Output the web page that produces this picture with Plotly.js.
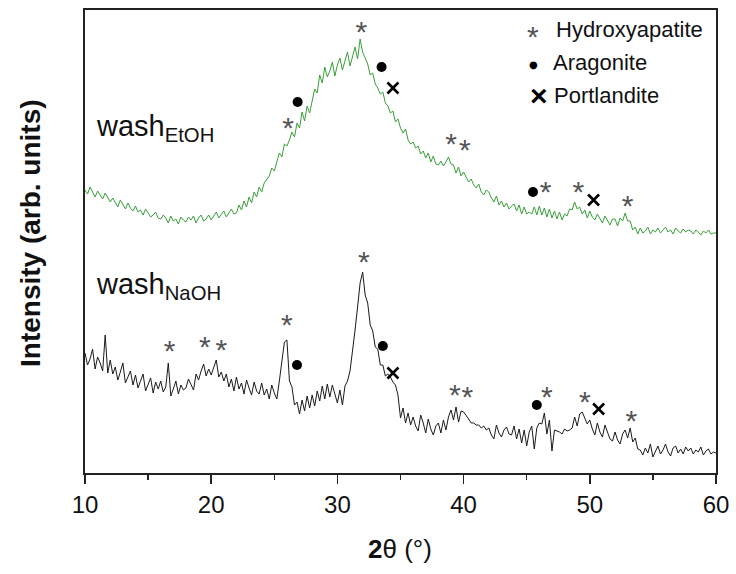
<!DOCTYPE html>
<html>
<head>
<meta charset="utf-8">
<script src="https://cdn.plot.ly/plotly-3.0.1.min.js"></script>
<style>html,body{margin:0;padding:0;background:#fff}#chart{width:736px;height:574px}</style>
</head>
<body>
<div id="chart"></div>
<script>
// 2-theta sampling: start 10°, step 0.2°, 251 points
const twoThetaStart = 10;
const twoThetaStep = 0.2;

// wash EtOH intensity (arb. units, offset trace)
const washEtOH = [
283,279,286,281,276,282,278,274,280,276,
271,275,270,266,273,268,264,270,265,262,
267,261,263,258,264,260,256,258,261,255,
254,258,255,250,257,252,254,249,256,253,
251,256,253,257,250,255,258,252,254,258,
253,257,261,255,258,262,256,260,264,259,
260,268,263,272,266,276,270,281,276,286,
281,290,294,297,305,302,311,320,316,329,
327,333,341,336,350,345,361,352,367,360,
372,384,380,398,390,406,396,402,411,397,
408,415,403,411,421,407,418,426,414,434,
421,414,409,398,400,389,385,379,381,370,
367,360,362,351,354,345,340,344,333,329,
331,325,327,319,322,315,320,311,317,309,
308,312,307,311,316,309,308,300,306,297,
301,296,291,294,288,285,289,281,278,283,
281,275,271,277,268,272,266,270,264,267,
269,262,268,259,266,259,261,259,266,258,
267,258,265,256,264,255,262,254,261,253,
259,257,264,263,271,264,266,259,263,255,
262,256,253,259,254,250,257,252,248,254,
254,247,255,252,260,252,252,243,246,239,
245,240,242,246,239,243,241,245,240,243,
246,241,243,239,245,242,240,244,241,243,
242,239,243,241,238,242,240,243,239,240,
240];

// wash NaOH intensity (arb. units)
const washNaOH = [
120,108,114,124,104,116,110,102,138,100,
113,99,106,93,101,110,90,96,102,88,
98,85,92,99,82,88,95,80,91,84,
92,81,86,110,77,84,92,79,88,83,
85,94,88,83,99,93,102,109,97,104,
98,106,113,96,101,92,99,86,94,82,
96,84,90,79,93,85,78,91,82,79,
90,78,84,74,88,80,74,92,113,131,
133,92,86,68,71,59,73,62,77,65,
78,67,82,72,87,74,89,76,88,78,
70,83,68,87,92,102,120,143,166,190,
201,178,170,148,142,126,124,108,108,97,
99,96,91,88,78,55,65,50,60,48,
56,47,42,58,50,40,54,44,38,47,
50,40,53,43,56,63,53,66,51,62,
61,58,54,50,50,48,48,45,47,43,
45,38,34,48,40,36,43,46,39,38,
47,34,44,30,43,27,41,47,24,45,
50,49,60,39,53,22,43,42,41,39,
44,42,43,45,56,47,59,61,54,49,
53,44,38,50,41,36,48,40,34,32,
41,33,29,39,43,35,45,31,35,24,
23,18,25,20,29,16,22,27,19,23,
29,21,17,25,27,20,24,19,26,22,
25,19,23,21,26,18,22,24,19,21,
20];

// Phase markers (2theta, height on the offset intensity scale)
const hapX = [31.9,26.1,39.0,40.1,46.5,49.1,53.0, 32.1,26.0,16.7,19.5,20.8,39.3,40.3,46.6,49.6,53.3];
const hapY = [446,350,334,328,286,286,272, 216,153,127,131,128,83,81,81,76,57];
const aragX = [26.85,33.5,45.5, 26.8,33.6,45.8];
const aragY = [371,406,281, 108,127,68];
const portX = [34.4,50.3, 34.4,50.7];
const portY = [385,273, 100,64];

const sampleLabels = ["wash<sub>EtOH</sub>", "wash<sub>NaOH</sub>"];
const legendNames = ["Hydroxyapatite", "Aragonite", "Portlandite"];
const xTicks = [10,20,30,40,50,60];

const xs = washEtOH.map((_, i) => +(twoThetaStart + i * twoThetaStep).toFixed(2));

const FONT = "Liberation Sans, Arial, sans-serif";
const STAR_SIZE = 30;

const traces = [
  {x: xs, y: washEtOH, type: "scatter", mode: "lines", line: {color: "#3a9e3a", width: 1}, showlegend: false, hoverinfo: "skip"},
  {x: xs, y: washNaOH, type: "scatter", mode: "lines", line: {color: "#1a1a1a", width: 1}, showlegend: false, hoverinfo: "skip"},
  {x: hapX, y: hapY.map(v => v - 7), type: "scatter", mode: "text", text: hapX.map(() => "*"),
   textfont: {family: FONT, size: STAR_SIZE, color: "#555"}, textposition: "middle center", showlegend: false, hoverinfo: "skip"},
  {x: aragX, y: aragY, type: "scatter", mode: "markers", marker: {symbol: "circle", size: 10, color: "#000"}, showlegend: false, hoverinfo: "skip"},
  {x: portX, y: portY, type: "scatter", mode: "markers", marker: {symbol: "x-thin-open", size: 11, color: "#000", line: {color: "#000", width: 2.6}}, showlegend: false, hoverinfo: "skip"}
];

const W = 736, H = 574, L = 85, R = 20, T = 10, B = 101;
const pw = W - L - R, ph = H - T - B;
const px2x = p => (p - L) / pw;
const py2y = p => (H - B - p) / ph;

const annotations = [
  {text: sampleLabels[0], xref: "paper", yref: "paper", x: px2x(94), y: py2y(128), xanchor: "left", yanchor: "middle", showarrow: false, font: {family: FONT, size: 29, color: "#111"}},
  {text: sampleLabels[1], xref: "paper", yref: "paper", x: px2x(94), y: py2y(286), xanchor: "left", yanchor: "middle", showarrow: false, font: {family: FONT, size: 29, color: "#111"}},
  // legend
  {text: "*", xref: "paper", yref: "paper", x: px2x(533), y: py2y(36), xanchor: "center", yanchor: "middle", showarrow: false, font: {family: FONT, size: STAR_SIZE, color: "#555"}},
  {text: legendNames[0], xref: "paper", yref: "paper", x: px2x(554), y: py2y(29), xanchor: "left", yanchor: "middle", showarrow: false, font: {family: FONT, size: 22, color: "#111"}},
  {text: "●", xref: "paper", yref: "paper", x: px2x(533), y: py2y(64), xanchor: "center", yanchor: "middle", showarrow: false, font: {family: "DejaVu Sans", size: 10, color: "#000"}},
  {text: legendNames[1], xref: "paper", yref: "paper", x: px2x(551), y: py2y(62), xanchor: "left", yanchor: "middle", showarrow: false, font: {family: FONT, size: 22, color: "#111"}},
  {text: "<b>×</b>", xref: "paper", yref: "paper", x: px2x(539), y: py2y(96), xanchor: "center", yanchor: "middle", showarrow: false, font: {family: FONT, size: 30, color: "#000"}},
  {text: legendNames[2], xref: "paper", yref: "paper", x: px2x(552), y: py2y(96), xanchor: "left", yanchor: "middle", showarrow: false, font: {family: FONT, size: 22, color: "#111"}},
  // axis titles
  {text: "<b>Intensity (arb. units)</b>", xref: "paper", yref: "paper", x: px2x(31), y: py2y(233), xanchor: "center", yanchor: "middle", textangle: -90, showarrow: false, font: {family: FONT, size: 28, color: "#111"}},
  {text: "<b>2</b>θ (°)", xref: "paper", yref: "paper", x: px2x(400), y: py2y(549), xanchor: "center", yanchor: "middle", showarrow: false, font: {family: FONT, size: 26, color: "#111"}}
];

const layout = {
  width: W, height: H,
  margin: {l: L, r: R, t: T, b: B, pad: 0},
  paper_bgcolor: "#fff", plot_bgcolor: "#fff",
  showlegend: false,
  xaxis: {
    range: [10, 60], tickvals: xTicks, ticktext: xTicks.map(String),
    ticks: "outside", ticklen: 9, tickwidth: 1.5, tickcolor: "#222",
    minor: {dtick: 5, tick0: 10, ticks: "outside", ticklen: 5, tickwidth: 1.5, tickcolor: "#222", showgrid: false},
    showline: true, linecolor: "#222", linewidth: 2, mirror: true,
    showgrid: false, zeroline: false,
    tickfont: {family: FONT, size: 24, color: "#111"}
  },
  yaxis: {
    range: [0, 463], showticklabels: false, ticks: "",
    showline: true, linecolor: "#222", linewidth: 2, mirror: true,
    showgrid: false, zeroline: false
  },
  annotations: annotations
};

Plotly.newPlot("chart", traces, layout, {staticPlot: true, displayModeBar: false});
</script>
</body>
</html>
